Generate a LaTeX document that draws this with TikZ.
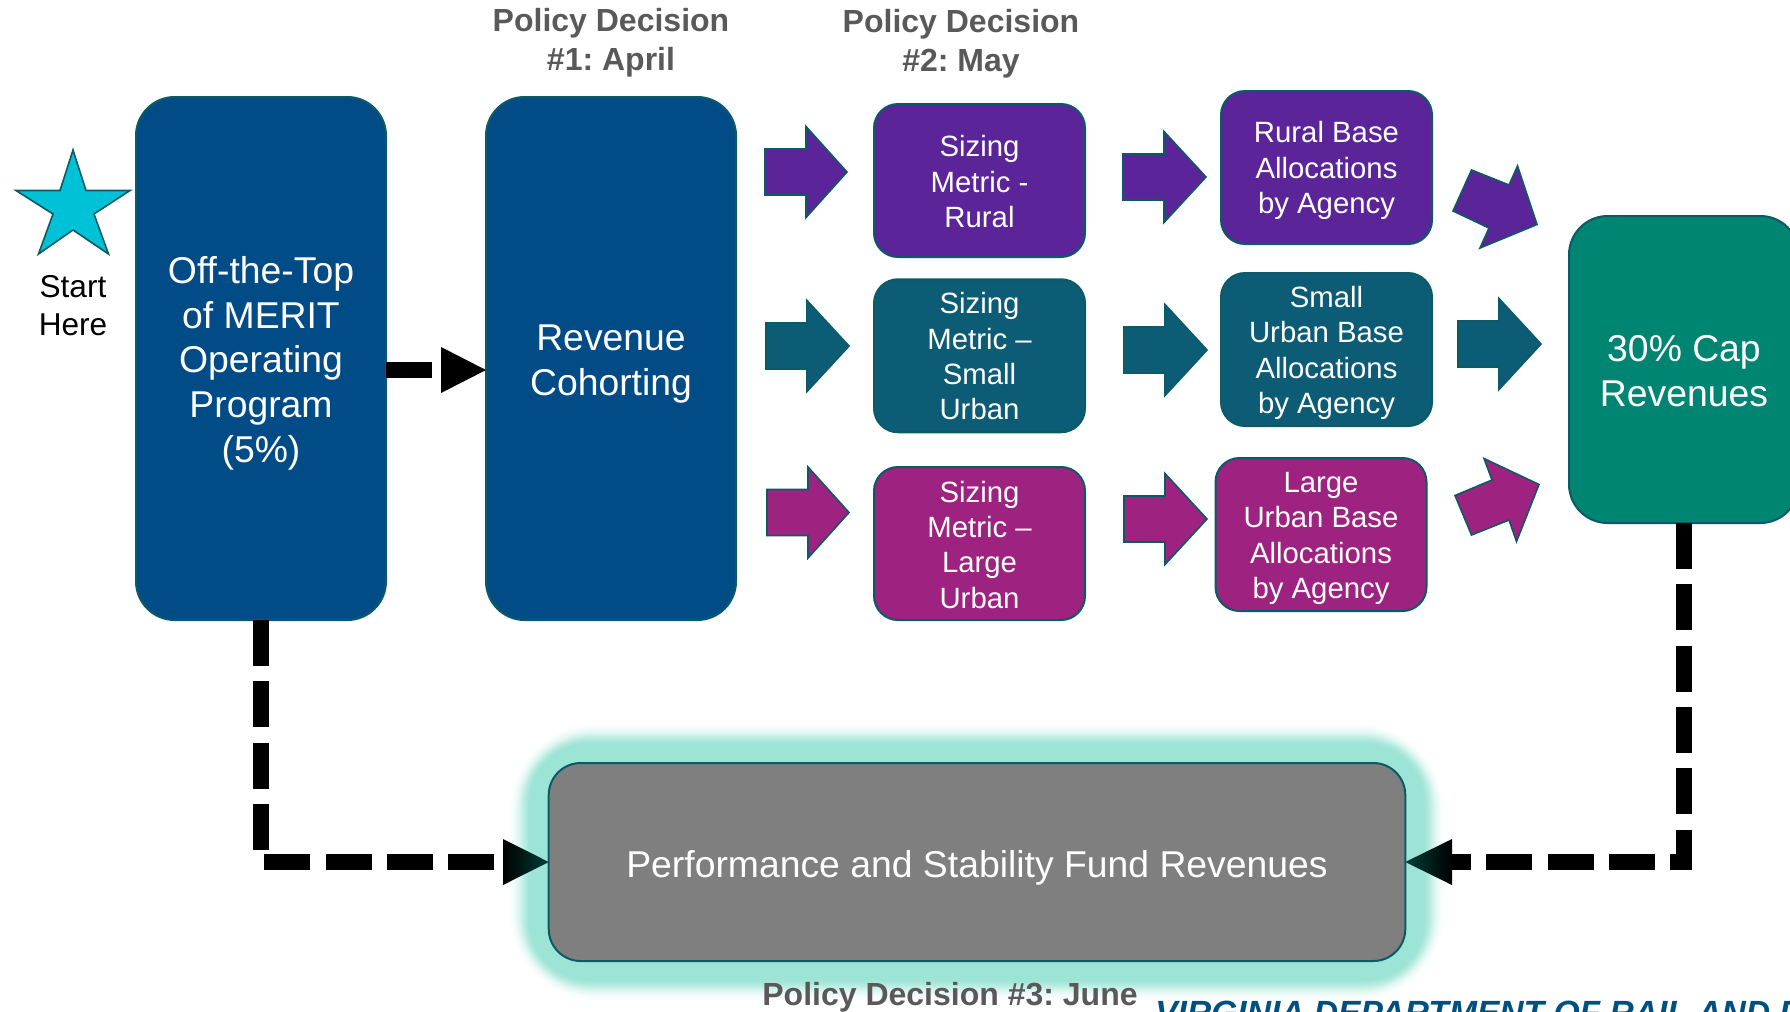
\documentclass[tikz,border=0pt]{standalone}
\usepackage{fontspec}
\setmainfont{Liberation Sans}
\frenchspacing
\definecolor{edgeteal}{HTML}{0B5A66}
\definecolor{deepblue}{HTML}{014C87}
\definecolor{ruralpurple}{HTML}{5B2499}
\definecolor{smallteal}{HTML}{0C5C75}
\definecolor{largemag}{HTML}{9E2380}
\definecolor{capgreen}{HTML}{008573}
\definecolor{fundgrey}{HTML}{7F7F7F}
\definecolor{starcyan}{HTML}{00C1D5}
\definecolor{glowmint}{HTML}{9CE4D6}
\definecolor{headteal}{HTML}{003F38}
\definecolor{decisiongrey}{HTML}{595959}
\definecolor{vdrpt}{HTML}{00507F}
\newcommand{\dn}[1]{\rule{0pt}{\dimexpr0.73em+#1\relax}}
\tikzset{
  bigbox/.style={draw=edgeteal,line width=1.5pt,rounded corners=29pt,inner sep=0pt,outer sep=0pt,
    text=white,align=center,font=\fontsize{28}{33.6}\selectfont},
  tallbox/.style={bigbox,fill=deepblue,minimum width=187.5pt,minimum height=392.25pt},
  smallbox/.style={draw=edgeteal,line width=1.5pt,rounded corners=18pt,inner sep=0pt,outer sep=0pt,
    text=white,align=center,font=\fontsize{22}{26.5}\selectfont,minimum width=158.25pt,minimum height=114.75pt},
  decision/.style={text=decisiongrey,align=center,inner sep=0pt,font=\fontsize{24}{29}\selectfont\bfseries},
  blockarrow/.style={draw=edgeteal,line width=1.2pt,line join=miter},
  heavyline/.style={line width=11.5pt,line cap=butt,line join=miter,dash pattern=on 34.5pt off 11.5pt},
}
% tail x, head-base x, tip x, centre y, colour
\newcommand{\straightarrow}[5]{\draw[blockarrow,fill=#5] (#1+1,#4-23) -- (#2,#4-23) -- (#2,#4-45.5) -- (#3-1,#4) -- (#2,#4+45.5) -- (#2,#4+23) -- (#1+1,#4+23) -- cycle;}
\begin{document}
\begin{tikzpicture}[x=0.75pt,y=-0.75pt]
\useasboundingbox (0,0) rectangle (1790,1011);
\clip (0,0) rectangle (1790,1011);
% glow of the fund box
\foreach \d/\p in {38/3,36/8,34/15,32/24,30/35,28/48,26/62,24/75,22/86,20/94,18/100}{
  \fill[glowmint!\p!white,rounded corners=24pt+1.1pt*\d] (548-\d,762-\d) rectangle (1406+\d,962+\d);
}
% star
\node[inner sep=0pt,align=center,font=\fontsize{23.7}{28.5}\selectfont] (start) at (73,306) {Start\\Here};
\draw[draw=edgeteal,line width=1.2pt,fill=starcyan,line join=miter]
  (73,150) -- (86,190.5) -- (130,190.5) -- (94,214) -- (108.5,254) -- (73,230) -- (38.5,254) -- (53,214) -- (16,190.5) -- (60,190.5) -- cycle;
% main boxes
\node[tallbox] (merit) at (261,358.5) {\dn{6.9pt}Off-the-Top\\of MERIT\\Operating\\Program\\(5\%)};
\node[tallbox] (cohort) at (611,358.5) {\dn{7pt}Revenue\\Cohorting};
\node[smallbox,fill=ruralpurple] (sizerural) at (979.5,180.5) {\dn{1.7pt}Sizing\\Metric -\\Rural};
\node[smallbox,fill=smallteal] (sizesmall) at (979.5,355.75) {\dn{0.9pt}Sizing\\Metric –\\Small\\Urban};
\node[smallbox,fill=largemag] (sizelarge) at (979.5,543.5) {\dn{1.7pt}Sizing\\Metric –\\Large\\Urban};
\node[smallbox,fill=ruralpurple] (baserural) at (1326.5,167.5) {\dn{4.3pt}Rural Base\\Allocations\\by Agency};
\node[smallbox,fill=smallteal] (basesmall) at (1326.5,349.5) {\dn{5.1pt}Small\\Urban Base\\Allocations\\by Agency};
\node[smallbox,fill=largemag] (baselarge) at (1321,534.5) {\dn{5.1pt}Large\\Urban Base\\Allocations\\by Agency};
\node[bigbox,fill=capgreen,minimum width=172.5pt,minimum height=230.25pt] (cap) at (1684,369.5) {\dn{1.7pt}30\% Cap\\Revenues};
\node[bigbox,fill=fundgrey,rounded corners=24pt,minimum width=642.4pt,minimum height=148.5pt] (fund) at (977,862) {\dn{8.6pt}Performance and Stability Fund Revenues};
% decisions
\node[decision] (pd1) at (611,42.4) {Policy Decision\\\#1: April};
\node[decision] (pd2) at (961,43.4) {Policy Decision\\\#2: May};
\node[decision] (pd3) at (950,997.4) {Policy Decision \#3: June};
\node[anchor=base west,inner sep=0pt,text=vdrpt,font=\fontsize{25.2}{30}\selectfont\bfseries\itshape] (agency) at (1155,1024) {VIRGINIA DEPARTMENT OF RAIL AND P};
% block arrows
\straightarrow{764}{806}{848}{172}{ruralpurple}
\straightarrow{765}{807}{850}{346}{smallteal}
\straightarrow{766}{808}{850}{512.5}{largemag}
\straightarrow{1122}{1164}{1207}{177}{ruralpurple}
\straightarrow{1123}{1165}{1208}{350}{smallteal}
\straightarrow{1123}{1165}{1208}{519}{largemag}
\straightarrow{1457}{1499}{1542}{344}{smallteal}
\draw[blockarrow,fill=ruralpurple] (1453,211) -- (1471.5,170) -- (1509,185) -- (1517.5,166) -- (1537,224.5) -- (1480,248) -- (1489,228) -- cycle;
\draw[blockarrow,fill=largemag] (1455,495.5) -- (1492,480) -- (1484,458.5) -- (1539,484.5) -- (1516.5,541.5) -- (1509,520) -- (1471.5,535) -- cycle;
% connectors
\coordinate (solidbase) at (441,370);
\coordinate (leftbase) at (503,862);
\coordinate (rightbase) at (1452,862);
\coordinate (cohortin) at (cohort.west |- solidbase);
\draw[heavyline] (merit.east |- solidbase) -- (solidbase);
\fill[black] (441,347) -- (441,393) -- (cohortin) -- cycle;
\draw[heavyline] (merit.south) |- (leftbase);
\draw[heavyline] (cap.south) |- (rightbase);
\path[left color=black,right color=headteal] (503,839) -- (503,885) -- (fund.west) -- cycle;
\path[left color=headteal,right color=black] (1452,839) -- (1452,885) -- (fund.east) -- cycle;
\end{tikzpicture}
\end{document}
